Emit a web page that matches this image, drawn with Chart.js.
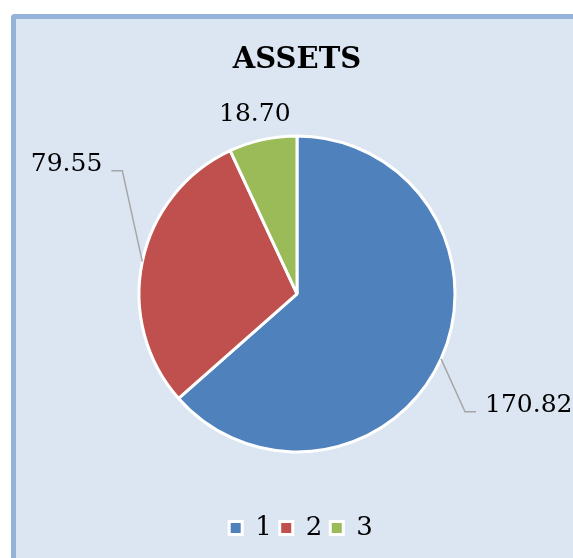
<!DOCTYPE html>
<html>
<head>
<meta charset="utf-8">
<script src="https://cdn.jsdelivr.net/npm/chart.js@4.4.1/dist/chart.umd.min.js"></script>
<style>
  html, body { margin: 0; padding: 0; background: #fff; overflow: hidden; }
  #card {
    position: absolute; left: 11px; top: 14px; width: 620px; height: 600px;
    background: #dce6f2; border-left: 5px solid #95b3d7; border-top: 5px solid #95b3d7;
    border-top-left-radius: 4px;
  }
  #wrap { position: absolute; left: 0; top: 0; width: 573px; height: 558px; }
</style>
</head>
<body>
<div id="card"></div>
<div id="wrap"><canvas id="graf" width="573" height="558"></canvas></div>
<script>
// dados do gráfico
const categorias = ['1', '2', '3']
const valores = [170.82, 79.55, 18.70]
const cores = ['#4f81bd', '#c0504d', '#9bbb59']

// onde fica cada rótulo em relação à borda da fatia
const rotulos = [
  { dx: 24, dy: 53, linha: true },
  { dx: -20, dy: -91, linha: true },
  { dx: -8, dy: -25, linha: false }
]

const fonte = "'DejaVu Serif', serif"

// plugin para desenhar os rótulos com linhas de chamada
const rotulosPlugin = {
  id: 'rotulos',
  afterLayout(chart) {
    // legenda um pouco mais à direita, como no original
    chart.legend.left += 4
    chart.legend.right += 4
  },
  afterDatasetsDraw(chart) {
    const ctx = chart.ctx
    const meta = chart.getDatasetMeta(0)
    ctx.save()
    ctx.font = '25px ' + fonte
    ctx.fillStyle = '#000'
    meta.data.forEach((arc, i) => {
      const p = arc.getProps(['x', 'y', 'startAngle', 'endAngle', 'outerRadius'])
      const meio = (p.startAngle + p.endAngle) / 2
      const ex = p.x + p.outerRadius * Math.cos(meio)
      const ey = p.y + p.outerRadius * Math.sin(meio)
      const r = rotulos[i]
      const lx = ex + r.dx
      const ly = ey + r.dy
      const texto = valores[i].toFixed(2)
      if (r.linha) {
        const lado = r.dx > 0 ? 1 : -1
        ctx.strokeStyle = '#a6a6a6'
        ctx.lineWidth = 1.5
        ctx.beginPath()
        ctx.moveTo(ex, ey)
        ctx.lineTo(lx, ly)
        ctx.lineTo(lx + lado * 11, ly)
        ctx.stroke()
        ctx.textAlign = lado > 0 ? 'left' : 'right'
        ctx.textBaseline = 'alphabetic'
        ctx.fillText(texto, lx + lado * 20, ly)
      } else {
        ctx.textAlign = 'center'
        ctx.textBaseline = 'middle'
        ctx.fillText(texto, lx, ly)
      }
    })
    ctx.restore()
  }
}

const ctx = document.getElementById('graf').getContext('2d')

const config = {
  type: 'pie',
  data: {
    labels: categorias,
    datasets: [{
      data: valores,
      backgroundColor: cores,
      borderColor: '#ffffff',
      borderWidth: 3,
      radius: 158
    }]
  },
  options: {
    responsive: false,
    animation: false,
    layout: { padding: { left: 21, bottom: 7 } },
    plugins: {
      title: {
        display: true,
        text: 'ASSETS',
        color: '#000',
        font: { family: fonte, size: 29, weight: 'bold' },
        padding: { top: 43, bottom: 3 }
      },
      legend: {
        display: true,
        position: 'bottom',
        labels: {
          color: '#000',
          font: { family: fonte, size: 26 },
          boxWidth: 13,
          boxHeight: 13,
          padding: 8
        }
      },
      tooltip: { enabled: false }
    }
  },
  plugins: [rotulosPlugin]
}

const grafico = new Chart(ctx, config)
</script>
</body>
</html>
